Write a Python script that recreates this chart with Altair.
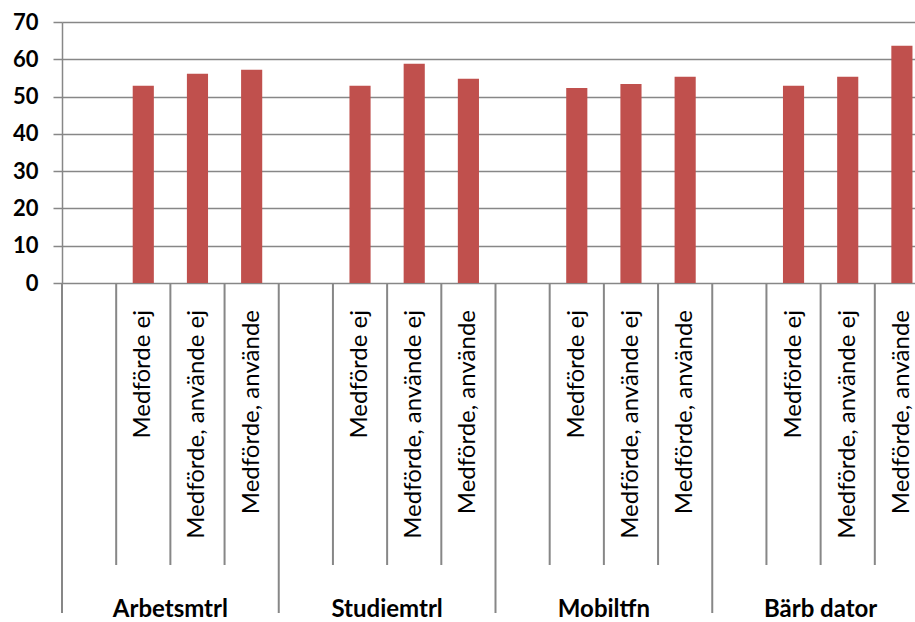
import altair as alt
import pandas as pd

groups = ["Arbetsmtrl", "Studiemtrl", "Mobiltfn", "Bärb dator"]
subcats = ["Medförde ej", "Medförde, använde ej", "Medförde, använde"]
values = [
    [52.9, 56.1, 57.2],
    [52.9, 58.8, 54.8],
    [52.3, 53.4, 55.3],
    [52.9, 55.3, 63.6],
]
y_ticks = [0, 10, 20, 30, 40, 50, 60, 70]

# slots: each group = one blank slot + three sub-categories
slot_keys, slot_labels, slot_group, slot_pos = [], [], [], []
for gi, g in enumerate(groups):
    for si in range(4):
        slot_keys.append(f"{gi}-{si}")
        slot_labels.append("" if si == 0 else subcats[si - 1])
        slot_group.append(g)
        slot_pos.append(si)

slots = pd.DataFrame({"slot": slot_keys, "label": slot_labels,
                      "group": slot_group, "pos": slot_pos})
bars = pd.DataFrame({
    "slot": [f"{gi}-{si + 1}" for gi in range(len(groups)) for si in range(3)],
    "value": [v for row in values for v in row],
})

GRAY = "#878787"
FONT = "Lato"
W, H = 853, 261
SLOT_RANGE = 867

xscale = alt.Scale(domain=slot_keys, range=[0, SLOT_RANGE], paddingInner=0, paddingOuter=0)

bar = alt.Chart(bars).mark_bar(color="#C0504D", width=alt.RelativeBandSize(0.39)).encode(
    x=alt.X("slot:N", scale=xscale, axis=None),
    y=alt.Y("value:Q", scale=alt.Scale(domain=[0, 70], nice=False),
            axis=alt.Axis(values=y_ticks, title=None, grid=True, gridColor=GRAY,
                          gridWidth=1.3, domainColor=GRAY, domainWidth=1.5,
                          tickColor=GRAY, tickSize=9, tickWidth=1.5,
                          labelFont=FONT, labelFontSize=22, labelFontWeight="bold",
                          labelColor="#000000", labelPadding=15)),
)

inner_rules = alt.Chart(slots[slots["pos"] != 0]).mark_rule(color=GRAY, strokeWidth=2).encode(
    x=alt.X("slot:N", scale=xscale, axis=None, bandPosition=0),
    y=alt.value(H),
    y2=alt.value(543),
)

group_rules = alt.Chart(slots[slots["pos"] == 0]).mark_rule(color=GRAY, strokeWidth=2).encode(
    x=alt.X("slot:N", scale=xscale, axis=None, bandPosition=0),
    y=alt.value(H),
    y2=alt.value(591),
)

inner_text = alt.Chart(slots[slots["pos"] != 0]).mark_text(
    angle=270, align="right", baseline="middle", font=FONT, fontSize=24, color="#000000"
).encode(
    x=alt.X("slot:N", scale=xscale, axis=None),
    y=alt.value(288),
    text="label:N",
)

group_text = alt.Chart(slots[slots["pos"] == 2]).mark_text(
    align="center", baseline="alphabetic", font=FONT, fontSize=24, fontWeight="bold", color="#000000"
).encode(
    x=alt.X("slot:N", scale=xscale, axis=None, bandPosition=0),
    y=alt.value(595),
    text="group:N",
)

chart = alt.layer(bar, inner_rules, group_rules, inner_text, group_text).properties(
    width=W, height=H,
    autosize=alt.AutoSizeParams(type="none"),
    padding={"left": 62, "top": 22, "right": 0, "bottom": 339},
    background="white",
).configure_view(stroke=None)

chart.save("out.html", embed_options={"renderer": "svg", "actions": False})
